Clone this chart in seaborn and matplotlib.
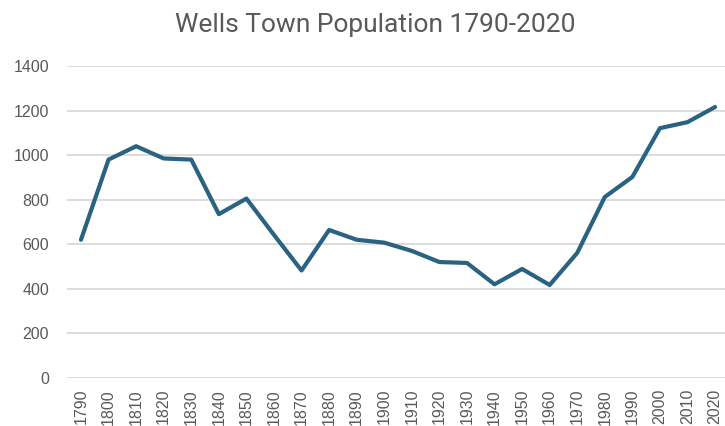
import pandas as pd
import matplotlib.pyplot as plt
import seaborn as sns

# Census years and town population
years = ['1790', '1800', '1810', '1820', '1830', '1840', '1850', '1860',
         '1870', '1880', '1890', '1900', '1910', '1920', '1930', '1940',
         '1950', '1960', '1970', '1980', '1990', '2000', '2010', '2020']
population = [620, 980, 1040, 985, 980, 735, 805, 642,
              482, 664, 620, 607, 570, 520, 516, 420,
              489, 417, 561, 812, 902, 1121, 1148, 1216]
y_ticks = [0, 200, 400, 600, 800, 1000, 1200, 1400]

df = pd.DataFrame({'year': years, 'population': population})

sns.set_theme(style="white")
plt.rcParams['font.family'] = ['Liberation Sans', 'DejaVu Sans']

fig = plt.figure(figsize=(7.25, 4.26), dpi=100)
# plot area runs a little past the right edge, like the reference
ax = fig.add_axes([0.0927, 0.113, 0.9126, 0.732])

sns.lineplot(data=df, x='year', y='population', sort=False,
             color='#2A6282', linewidth=3, ax=ax)

ax.set_ylim(0, 1400)
ax.set_xlim(-0.5, len(years) - 0.5)
ax.set_yticks(y_ticks)
ax.yaxis.grid(True, color='#D9D9D9', linewidth=1.3)
ax.xaxis.grid(False)
ax.set_axisbelow(True)
for s in ax.spines.values():
    s.set_visible(False)

ax.tick_params(axis='both', length=0, labelsize=11.5, labelcolor='#595959')
ax.tick_params(axis='y', pad=13)
ax.tick_params(axis='x', pad=8)
plt.setp(ax.get_xticklabels(), rotation=90)
ax.set_xlabel('')
ax.set_ylabel('')

fig.text(0.517, 0.925, 'Wells Town Population 1790-2020', fontsize=19,
         color='#595959', family=['Roboto', 'DejaVu Sans'], ha='center')

fig.savefig('out.png', dpi=100)
